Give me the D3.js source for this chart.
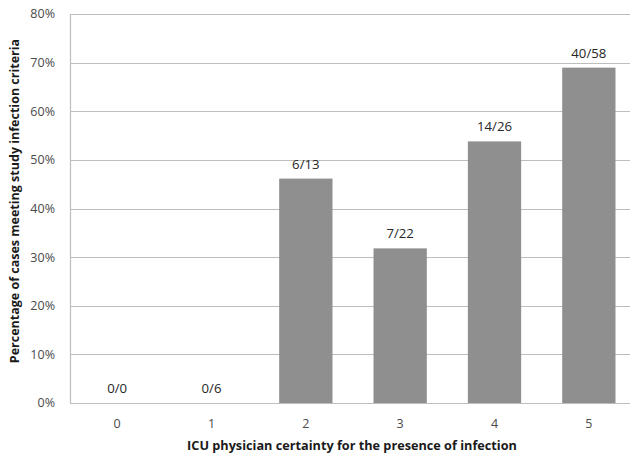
<!DOCTYPE html>
<html>
<head>
<meta charset="utf-8">
<script src="https://cdn.jsdelivr.net/npm/d3@7"></script>
<style>
  body { margin: 0; background: #fff; }
  text { font-family: "Open Sans", "DejaVu Sans", sans-serif; }
</style>
</head>
<body>
<div id="chart"></div>
<script>
const categories = ["0", "1", "2", "3", "4", "5"];
const values = [0, 0, 0.4615, 0.318, 0.538, 0.6897];
const barLabels = ["0/0", "0/6", "6/13", "7/22", "14/26", "40/58"];
const yTicks = [0, 0.1, 0.2, 0.3, 0.4, 0.5, 0.6, 0.7, 0.8];

const width = 630, height = 458;
const margin = { top: 14, right: -6, bottom: 55, left: 70 };

const svg = d3.select("#chart").append("svg")
    .attr("width", width)
    .attr("height", height);

const x = d3.scaleBand()
    .domain(categories)
    .range([margin.left, width - margin.right])
    .paddingInner(0.435)
    .paddingOuter(0.2175);

const y = d3.scaleLinear()
    .domain([0, 0.8])
    .range([height - margin.bottom, margin.top]);

// gridlines
svg.append("g")
    .selectAll("line")
    .data(yTicks)
    .join("line")
    .attr("x1", margin.left)
    .attr("x2", width - margin.right)
    .attr("y1", d => Math.round(y(d)) + 0.5)
    .attr("y2", d => Math.round(y(d)) + 0.5)
    .attr("stroke", "#bdbdbd")
    .attr("stroke-width", 1.2);

// y axis line
svg.append("line")
    .attr("x1", margin.left + 0.5).attr("x2", margin.left + 0.5)
    .attr("y1", y(0.8)).attr("y2", y(0))
    .attr("stroke", "#bdbdbd")
    .attr("stroke-width", 1.2);

// y tick labels
svg.append("g")
    .selectAll("text")
    .data(yTicks)
    .join("text")
    .attr("x", 55)
    .attr("y", d => y(d))
    .attr("dy", "0.35em")
    .attr("text-anchor", "end")
    .attr("font-size", 12.5)
    .attr("fill", "#4a4a4a")
    .text(d => d3.format(".0%")(d));

// bars
svg.append("g")
    .selectAll("rect")
    .data(values)
    .join("rect")
    .attr("x", (d, i) => x(categories[i]))
    .attr("y", d => y(d))
    .attr("width", x.bandwidth())
    .attr("height", d => y(0) - y(d))
    .attr("fill", "#8f8f8f");

// bar labels
svg.append("g")
    .selectAll("text")
    .data(values)
    .join("text")
    .attr("x", (d, i) => x(categories[i]) + x.bandwidth() / 2)
    .attr("y", d => y(d) - 10)
    .attr("text-anchor", "middle")
    .attr("font-size", 13.2)
    .attr("fill", "#262626")
    .text((d, i) => barLabels[i]);

// x tick labels
svg.append("g")
    .selectAll("text")
    .data(categories)
    .join("text")
    .attr("x", d => x(d) + x.bandwidth() / 2)
    .attr("y", 428)
    .attr("text-anchor", "middle")
    .attr("font-size", 12.5)
    .attr("fill", "#4a4a4a")
    .text(d => d);

// axis titles
svg.append("text")
    .attr("x", 352)
    .attr("y", 450)
    .attr("text-anchor", "middle")
    .attr("font-size", 12.7)
    .attr("font-weight", "bold")
    .attr("fill", "#1a1a1a")
    .text("ICU physician certainty for the presence of infection");

svg.append("text")
    .attr("transform", "translate(19,201) rotate(-90)")
    .attr("text-anchor", "middle")
    .attr("font-size", 12.5)
    .attr("font-weight", "bold")
    .attr("fill", "#1a1a1a")
    .text("Percentage of cases meeting study infection criteria");
</script>
</body>
</html>
